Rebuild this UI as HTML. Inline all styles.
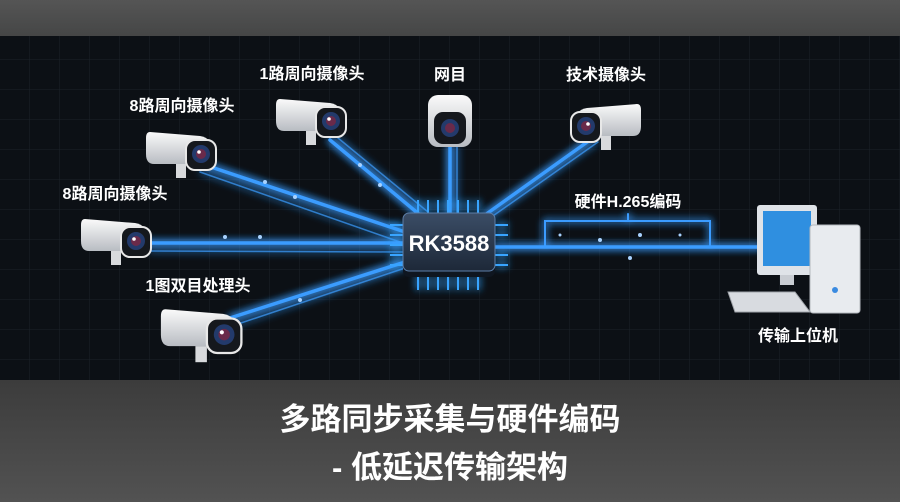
<!DOCTYPE html>
<html><head><meta charset="utf-8"><style>
body{margin:0;width:900px;height:502px;overflow:hidden;background:#4a4a4a;font-family:"Liberation Sans","Noto Sans CJK SC",sans-serif}
</style></head><body>
<svg width="900" height="502" viewBox="0 0 900 502" xmlns="http://www.w3.org/2000/svg" style="display:block">
<defs>
<linearGradient id="top" x1="0" y1="0" x2="0" y2="1"><stop offset="0" stop-color="#555"/><stop offset="1" stop-color="#454646"/></linearGradient>
<linearGradient id="bot" x1="0" y1="0" x2="0" y2="1"><stop offset="0" stop-color="#3c3c3c"/><stop offset="1" stop-color="#525252"/></linearGradient>
<pattern id="grid" width="30" height="30" patternUnits="userSpaceOnUse"><path d="M30 0V30H0" fill="none" stroke="#1c2229" stroke-width="1"/></pattern>
<filter id="glow" x="-20%" y="-20%" width="140%" height="140%"><feGaussianBlur stdDeviation="4" result="b"/><feMerge><feMergeNode in="b"/><feMergeNode in="b"/><feMergeNode in="SourceGraphic"/></feMerge></filter>
<linearGradient id="chip" x1="0" y1="0" x2="0" y2="1"><stop offset="0" stop-color="#3b4d66"/><stop offset="1" stop-color="#1d2838"/></linearGradient>
<linearGradient id="body" x1="0" y1="0" x2="0" y2="1"><stop offset="0" stop-color="#fafafa"/><stop offset="1" stop-color="#b8bcc2"/></linearGradient>
<g id="cam">
<rect x="-4" y="14" width="10" height="14" fill="#d8dadd"/>
<path d="M-30 -18 L20 -14 Q32 -12 32 0 L32 14 L-26 14 Q-34 14 -34 4 L-34 -12 Q-34 -18 -30 -18Z" fill="url(#body)"/>
<rect x="6" y="-10" width="30" height="30" rx="9" fill="#15181d" stroke="#e8e8e8" stroke-width="2"/>
<circle cx="21" cy="4" r="9" fill="#233a6b"/><circle cx="21" cy="4" r="5" fill="#6a2a4a"/><circle cx="19" cy="2" r="1.8" fill="#fff"/>
</g>
</defs>
<rect width="900" height="36" fill="url(#top)"/>
<rect y="36" width="900" height="344" fill="#0c1015"/>
<rect y="36" width="900" height="344" fill="url(#grid)"/>
<rect y="380" width="900" height="122" fill="url(#bot)"/>
<g stroke="#3a9cff" stroke-width="3.5" fill="none" filter="url(#glow)" stroke-linecap="round">
<path d="M205 165 L405 232"/><path d="M200 172 L400 242" stroke-width="1.5" opacity=".7"/>
<path d="M145 243 L405 243"/><path d="M150 251 L405 252" stroke-width="1.5" opacity=".7"/>
<path d="M330 140 L420 215"/><path d="M338 138 L428 212" stroke-width="1.5" opacity=".7"/>
<path d="M450 145 L450 213"/><path d="M457 145 L457 213" stroke-width="1.5" opacity=".7"/>
<path d="M590 140 L485 215"/><path d="M598 142 L490 218" stroke-width="1.5" opacity=".7"/>
<path d="M230 318 L405 262"/><path d="M232 326 L405 268" stroke-width="1.5" opacity=".7"/>
<path d="M495 247 L760 247"/>
<path d="M545 247 V221 H710 V247" stroke-width="2"/><path d="M628 221 V214" stroke-width="2"/>
</g>
<g fill="#a8d2ff">
<circle cx="265" cy="182" r="2"/><circle cx="295" cy="197" r="2"/><circle cx="225" cy="237" r="2"/><circle cx="260" cy="237" r="2"/><circle cx="360" cy="165" r="2"/><circle cx="380" cy="185" r="2"/><circle cx="600" cy="240" r="2"/><circle cx="640" cy="235" r="2"/><circle cx="630" cy="258" r="2"/><circle cx="300" cy="300" r="2"/><circle cx="560" cy="235" r="1.5"/><circle cx="680" cy="235" r="1.5"/>
</g>
<g stroke="#39a4ff" stroke-width="2" filter="url(#glow)">
<path d="M418 200V213M428 200V213M438 200V213M448 200V213M458 200V213M468 200V213M478 200V213"/>
<path d="M418 275V290M428 275V290M438 275V290M448 275V290M458 275V290M468 275V290M478 275V290"/>
<path d="M390 225H403M390 235H403M390 245H403M390 255H403M390 265H403"/>
<path d="M495 225H508M495 235H508M495 255H508M495 265H508"/>
</g>
<rect x="403" y="215" width="92" height="62" rx="6" fill="#0f1620"/>
<rect x="403" y="213" width="92" height="58" rx="6" fill="url(#chip)" stroke="#5c7ea8" stroke-width="1"/>
<text x="449" y="251" font-size="22" font-weight="bold" fill="#fff" text-anchor="middle">RK3588</text>
<use href="#cam" transform="translate(180,150)"/>
<use href="#cam" transform="translate(115,237)"/>
<use href="#cam" transform="translate(310,117)"/>
<use href="#cam" transform="translate(607,122) scale(-1,1)"/>
<g transform="translate(450,120)">
<rect x="-22" y="-25" width="44" height="52" rx="10" fill="url(#body)"/>
<rect x="-16" y="-8" width="32" height="32" rx="9" fill="#15181d"/>
<circle cx="0" cy="8" r="9" fill="#233a6b"/><circle cx="0" cy="8" r="5" fill="#6a2a4a"/>
</g>
<g transform="translate(200,330) scale(1.15)">
<use href="#cam"/>
</g>
<g>
<rect x="757" y="205" width="60" height="70" rx="3" fill="#dfe3e8"/>
<rect x="763" y="211" width="48" height="55" fill="#2f8fe0"/>
<rect x="780" y="275" width="14" height="10" fill="#c8ccd2"/>
<rect x="810" y="225" width="50" height="88" rx="3" fill="#e8ebef" stroke="#b4b8be"/>
<circle cx="835" cy="290" r="3" fill="#3a8ae0"/>
<path d="M728 292 L795 292 L810 312 L735 312Z" fill="#d8dbe0" stroke="#a0a4aa"/>
</g>
<g font-weight="bold" fill="#fff" font-size="16" text-anchor="middle">
<text x="182" y="111">8路周向摄像头</text>
<text x="115" y="199">8路周向摄像头</text>
<text x="312" y="79">1路周向摄像头</text>
<text x="450" y="80">网目</text>
<text x="606" y="80">技术摄像头</text>
<text x="198" y="291">1图双目处理头</text>
<text x="628" y="207">硬件H.265编码</text>
<text x="798" y="341">传输上位机</text>
</g>
<g font-weight="bold" fill="#fff" font-size="31" text-anchor="middle">
<text x="450" y="430">多路同步采集与硬件编码</text>
<text x="450" y="478">- 低延迟传输架构</text>
</g>
</svg>
</body></html>
